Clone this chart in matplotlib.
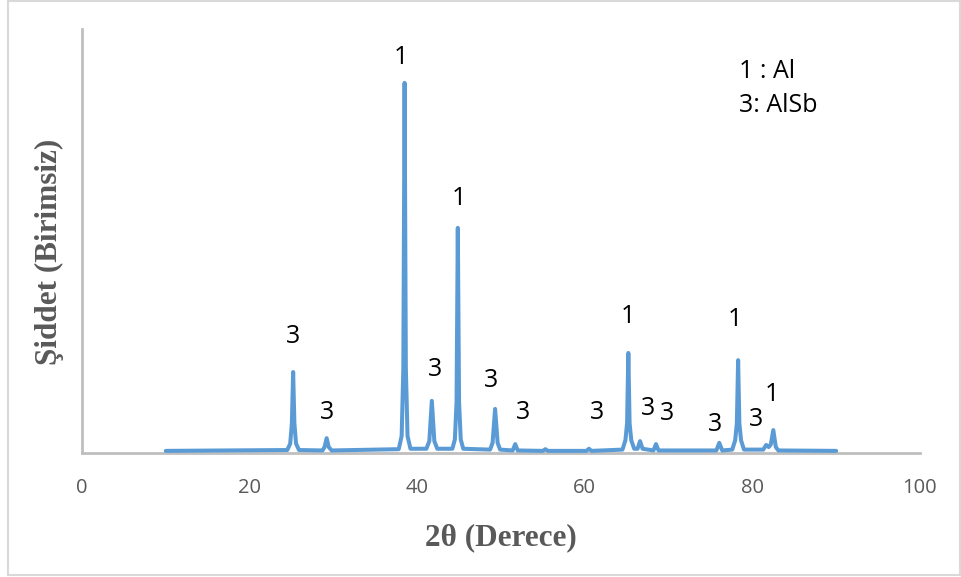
import matplotlib.pyplot as plt
from matplotlib.patches import Rectangle

# XRD pattern (2theta in degrees, intensity in arbitrary units)
two_theta = [
    10.0, 24.5, 24.85, 25.05, 25.2, 25.35, 25.55, 25.9,
    28.7, 28.95, 29.2, 29.45, 29.8,
    37.8, 38.15, 38.35, 38.5, 38.65, 38.85, 39.2,
    41.1, 41.45, 41.75, 42.05, 42.4,
    44.2, 44.5, 44.7, 44.85, 45.0, 45.2, 45.5,
    48.7, 49.0, 49.3, 49.6, 49.9,
    51.4, 51.7, 52.0,
    55.0, 55.3, 55.6,
    60.2, 60.5, 60.8,
    64.5, 64.85, 65.05, 65.2, 65.35, 65.55, 65.9,
    66.3, 66.6, 66.9,
    68.2, 68.5, 68.8,
    75.7, 76.05, 76.4,
    77.6, 77.95, 78.15, 78.3, 78.45, 78.65, 79.0,
    81.3, 81.65, 81.95, 82.2, 82.5, 82.8, 83.1,
    90.0,
]
intensity = [
    5, 7, 22, 70, 191, 70, 22, 7,
    6, 14, 35, 14, 6,
    9, 40, 200, 873, 200, 40, 10,
    10, 28, 123, 28, 10,
    10, 32, 120, 531, 120, 32, 10,
    8, 24, 104, 24, 8,
    6, 21, 6,
    5, 9, 5,
    5, 10, 5,
    8, 30, 70, 236, 70, 30, 10,
    10, 28, 10,
    6, 21, 6,
    6, 24, 6,
    8, 30, 70, 219, 70, 30, 8,
    8, 19, 14, 20, 54, 14, 6,
    5,
]

# Phase markers above the peaks
peak_labels = ["3", "3", "1", "3", "1", "3", "3", "3", "1", "3", "3", "3", "1", "3", "1"]
label_x = [25.2, 29.2, 38.0, 42.1, 45.0, 48.8, 52.6, 61.5, 65.1, 67.6, 69.8, 75.6, 77.9, 80.5, 82.3]
label_y = [275, 95, 932, 196, 600, 170, 95, 95, 323, 105, 92, 68, 314, 78, 137]

legend_lines = ["1 : Al", "3: AlSb"]

x_ticks = [0, 20, 40, 60, 80, 100]

fig = plt.figure(figsize=(9.62, 5.77), dpi=100)
fig.patches.append(Rectangle((0.008, 0.003), 0.99, 0.995, transform=fig.transFigure,
                             fill=False, edgecolor="#d9d9d9", linewidth=1.5))

ax = fig.add_axes([0.0852, 0.2149, 0.8711, 0.7348])
ax.plot(two_theta, intensity, color="#5b9bd5", linewidth=2.9, solid_joinstyle="round",
        solid_capstyle="round", zorder=3)

for lab, lx, ly in zip(peak_labels, label_x, label_y):
    ax.text(lx, ly, lab, ha="center", va="center", fontsize=18, family="Open Sans", color="black")

ax.text(78.4, 900, legend_lines[0], ha="left", va="center", fontsize=18, family="Open Sans")
ax.text(78.4, 820, legend_lines[1], ha="left", va="center", fontsize=18, family="Open Sans")

ax.set_xlim(0, 100)
ax.set_ylim(0, 1000)
ax.set_xticks(x_ticks)
ax.set_yticks([])
ax.tick_params(axis="x", length=0, pad=18, labelsize=14.5, labelcolor="#595959")
for t in ax.get_xticklabels():
    t.set_family("Open Sans")

for side in ["top", "right"]:
    ax.spines[side].set_visible(False)
ax.spines["left"].set_color("#bfbfbf")
ax.spines["left"].set_linewidth(2)
ax.spines["bottom"].set_color("#bfbfbf")
ax.spines["bottom"].set_linewidth(2)

ax.set_xlabel("2θ (Derece)", fontsize=22.5, fontweight="bold", family="Liberation Serif",
              color="#595959", labelpad=18)
ax.set_ylabel("Şiddet (Birimsiz)", fontsize=22.5, fontweight="bold", family="Liberation Serif",
              color="#595959")
ax.yaxis.set_label_coords(-0.022, 0.475)

fig.savefig("out.png", dpi=100)
